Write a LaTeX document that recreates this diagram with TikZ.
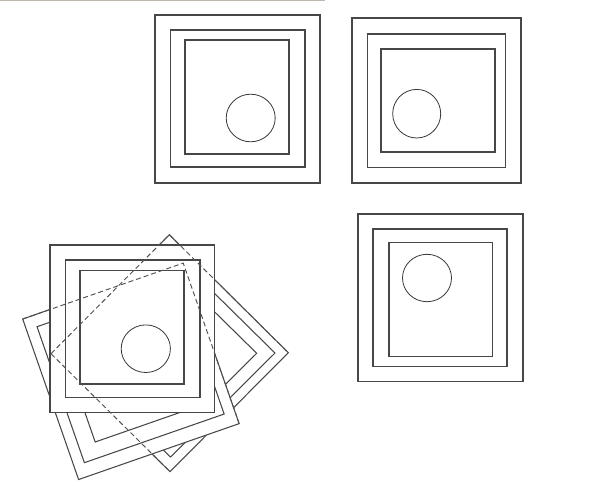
\documentclass[tikz,border=0pt]{standalone}
\begin{document}
\begin{tikzpicture}[x=1pt,y=-1pt,
  ln/.style={draw=black!72, line width=1.05pt, line join=miter},
  cir/.style={draw=black!78, line width=0.8pt},
  hid/.style={draw=black!68, line width=0.95pt, dash pattern=on 5pt off 3pt},
  cover/.style={fill=white, draw=black!72, line width=1.05pt}]
\useasboundingbox[fill=white] (0,0) rectangle (600,503);
% scan edge at top
\draw[draw={rgb,255:red,190;green,184;blue,172}, line width=1.2pt] (0,0.6) -- (325,0.6);

% ---- top-left group
\draw[ln] (155,15) rectangle (320,183);
\draw[ln] (170.7,30) rectangle (305,167);
\draw[ln] (185,40) rectangle (289,154);
\draw[cir] (250.7,118) ellipse [x radius=24.5, y radius=23.8];

% ---- top-right group
\draw[ln] (352,18) rectangle (521,183);
\draw[ln] (367.7,34) rectangle (505.7,167.7);
\draw[ln] (381,49) rectangle (495,152);
\draw[cir] (416.7,113.7) ellipse [x radius=24, y radius=24.3];

% ---- bottom-right group
\draw[ln] (358,214) rectangle (523,381.7);
\draw[ln] (373,229) rectangle (507,366.7);
\draw[ln] (389,242.7) rectangle (492.7,356.7);
\draw[cir] (427,278) ellipse [x radius=24.5, y radius=23.7];

% ---- bottom-left: group B (rotated about 45 degrees), lowest layer
\coordinate (Bt) at (169.3,234.7);
\coordinate (Br) at (288.3,352.7);
\coordinate (Bb) at (170,471.7);
\coordinate (Bl) at (51,353.7);
\draw[ln] (Bt) -- (Br) -- (Bb) -- (Bl) -- cycle;
\draw[ln] (169.5,249) -- (275,353) -- (170.5,457) -- (65,353.5) -- cycle;
\draw[ln] (169.5,267.5) -- (256.7,353.3) -- (170.5,439) -- (83.5,353.5) -- cycle;

% ---- group A (rotated about 19 degrees), middle layer
\begin{scope}[shift={(22.7,319)}, rotate=19.2]
  \coordinate (Atl) at (0,0);
  \coordinate (Atr) at (170,0);
  \coordinate (Abr) at (170,170);
  \draw[cover] (0,0) rectangle (170,170);
  \draw[ln] (11,12) rectangle (159,156);
  \draw[ln] (28,26) rectangle (141,140);
\end{scope}

% ---- group U (upright), top layer
\draw[cover] (50,245) rectangle (214.3,412.7);
\draw[ln] (65.7,260) rectangle (200,397.3);
\draw[ln] (80,270.7) rectangle (184,384);
\draw[cir] (145.8,348.7) ellipse [x radius=24.6, y radius=23.8];

% ---- hidden edges shown dashed
\draw[hid] (Atl) -- (Atr) -- (Abr);
\draw[hid] (Bl) -- (Bt) -- (Br);
\draw[hid] (Bl) -- (Bb);
\end{tikzpicture}
\end{document}
